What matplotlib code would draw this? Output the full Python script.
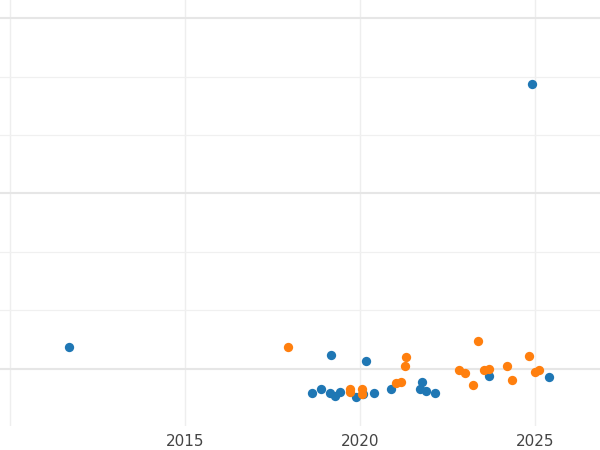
import matplotlib
matplotlib.use("Agg")
import matplotlib.pyplot as plt
from matplotlib.ticker import MultipleLocator

blue_x = [2011.69, 2024.91, 2019.17, 2020.17, 2018.63, 2018.89, 2019.14, 2019.29, 2019.43, 2019.89,
          2020.09, 2020.40, 2020.89, 2021.77, 2021.71, 2021.89, 2022.14, 2023.69, 2025.40]
blue_y = [0.126, 1.623, 0.08, 0.046, -0.137, -0.114, -0.137, -0.154, -0.131, -0.16,
          -0.143, -0.137, -0.114, -0.074, -0.114, -0.126, -0.137, -0.04, -0.046]
orange_x = [2017.94, 2019.71, 2019.71, 2020.06, 2020.06, 2021.03, 2021.17, 2021.31, 2021.29, 2022.83,
            2023.0, 2023.23, 2023.37, 2023.54, 2023.69, 2024.20, 2024.34, 2024.83, 2025.0, 2025.11]
orange_y = [0.126, -0.114, -0.131, -0.114, -0.143, -0.08, -0.074, 0.069, 0.017, -0.006,
            -0.023, -0.091, 0.16, -0.006, 0, 0.017, -0.063, 0.074, -0.017, -0.006]
x_ticks = [2010, 2015, 2020, 2025]
x_labels = ["", "2015", "2020", "2025"]

fig = plt.figure(figsize=(6, 4.5), dpi=100)
ax = fig.add_axes([0, 24/450, 1, 426/450])
ax.set_xlim(2009.714, 2026.857)
ax.set_ylim(-0.326, 2.103)
ax.yaxis.set_major_locator(MultipleLocator(1))
ax.yaxis.set_minor_locator(MultipleLocator(1/3))
ax.grid(True, which='major', axis='y', color='#e6e6e6', lw=1.5)
ax.grid(True, which='minor', axis='y', color='#f0f0f0', lw=0.9)
ax.grid(True, which='major', axis='x', color='#eeeeee', lw=1.0)
ax.set_axisbelow(True)
for s in ax.spines.values():
    s.set_visible(False)
ax.scatter(blue_x, blue_y, s=45, color='#1f77b4', zorder=3, linewidths=0)
ax.scatter(orange_x, orange_y, s=45, color='#ff7f0e', zorder=3, linewidths=0)
ax.set_xticks(x_ticks)
ax.set_xticklabels(x_labels)
ax.tick_params(axis='x', length=0, labelsize=11, labelcolor='#444444', pad=6)
ax.tick_params(axis='y', which='both', length=0, labelleft=False)
fig.savefig("out.png", dpi=100)
